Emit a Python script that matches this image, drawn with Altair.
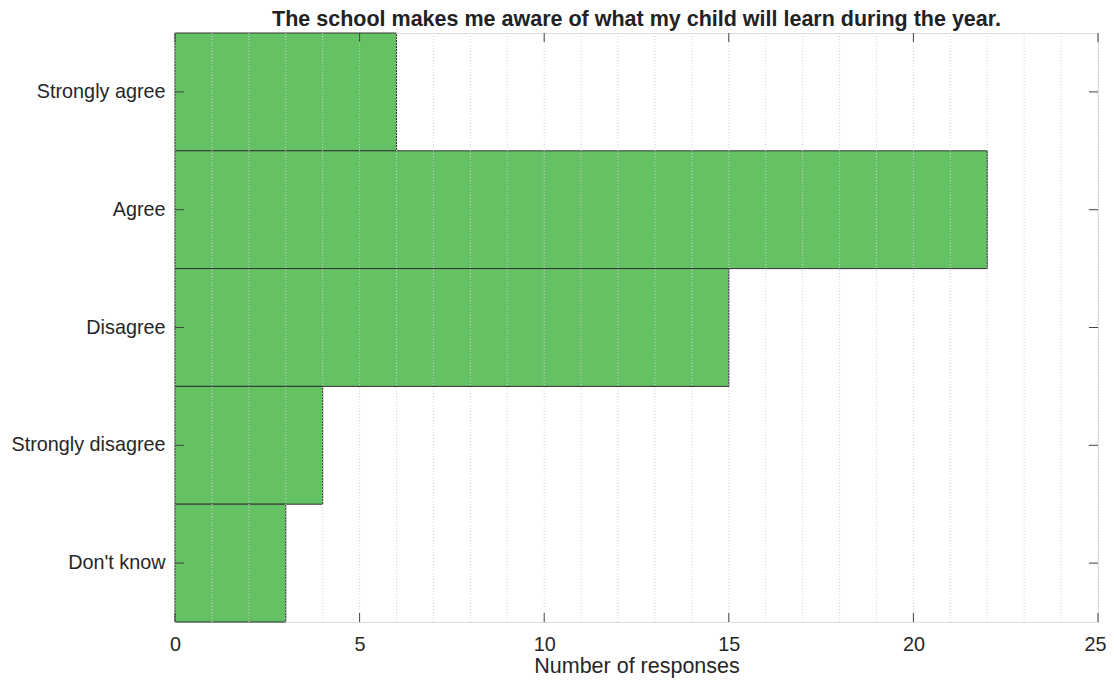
import altair as alt
import pandas as pd

categories = ["Strongly agree", "Agree", "Disagree", "Strongly disagree", "Don't know"]
counts = [6, 22, 15, 4, 3]
x_ticks = [0, 5, 10, 15, 20, 25]
grid_vals = list(range(0, 26))

df = pd.DataFrame({"cat": categories, "n": counts})
tick_df = pd.DataFrame({"t": x_ticks})
grid_df = pd.DataFrame({"g": grid_vals})

W, H = 923, 589
FONT = "Liberation Sans"
LS = 19.8

xscale = alt.Scale(domain=[0, 25], nice=False, zero=True)
yscale = alt.Scale(domain=categories, paddingInner=0, paddingOuter=0)

bars = alt.Chart(df).mark_bar(
    fill="#64C264", stroke="#333333", strokeWidth=1, opacity=1
).encode(
    x=alt.X("n:Q", scale=xscale,
            axis=alt.Axis(values=x_ticks, grid=False, ticks=False, domain=False,
                          labelOverlap=False, labelFlush=False,
                          labelOffset={"condition": {"test": "datum.value == 25", "value": -3}, "value": 0},
                          labelFontSize=LS, labelFont=FONT, labelColor="#262626",
                          labelPadding=12, title="Number of responses", titleFontSize=21.5,
                          titleFont=FONT, titleFontWeight="normal", titleColor="#262626",
                          titlePadding=2)),
    y=alt.Y("cat:N", scale=yscale, sort=categories,
            axis=alt.Axis(grid=False, ticks=False, domain=False, labelFontSize=LS,
                          labelFont=FONT, labelColor="#262626", labelPadding=10, title=None)),
)

grid = alt.Chart(grid_df).mark_rule(color="#d0d0d0", strokeWidth=1, strokeDash=[1, 2]).encode(
    x=alt.X("g:Q", scale=xscale), y=alt.value(0), y2=alt.value(H))

tick_bottom = alt.Chart(tick_df).mark_rule(color="#444444", strokeWidth=1).encode(
    x=alt.X("t:Q", scale=xscale), y=alt.value(H), y2=alt.value(H - 9))
tick_top = alt.Chart(tick_df).mark_rule(color="#444444", strokeWidth=1).encode(
    x=alt.X("t:Q", scale=xscale), y=alt.value(0), y2=alt.value(9))
ytick_left = alt.Chart(df).mark_rule(color="#444444", strokeWidth=1).encode(
    y=alt.Y("cat:N", scale=yscale, sort=categories, bandPosition=0.5),
    x=alt.value(0), x2=alt.value(9))
ytick_right = alt.Chart(df).mark_rule(color="#444444", strokeWidth=1).encode(
    y=alt.Y("cat:N", scale=yscale, sort=categories, bandPosition=0.5),
    x=alt.value(W - 9), x2=alt.value(W))

chart = alt.layer(bars, grid, tick_bottom, tick_top, ytick_left, ytick_right).properties(
    width=W, height=H,
    title=alt.TitleParams(
        "The school makes me aware of what my child will learn during the year.",
        fontSize=21.5, font=FONT, fontWeight="bold", color="#222222", anchor="middle", offset=2),
    autosize=alt.AutoSizeParams(type="none"),
    padding={"left": 167, "top": 25, "right": 8, "bottom": 57},
).configure_view(stroke="#555555", strokeWidth=1).configure(background="white")

chart.save("out.html", embed_options={"renderer": "svg", "actions": False})
